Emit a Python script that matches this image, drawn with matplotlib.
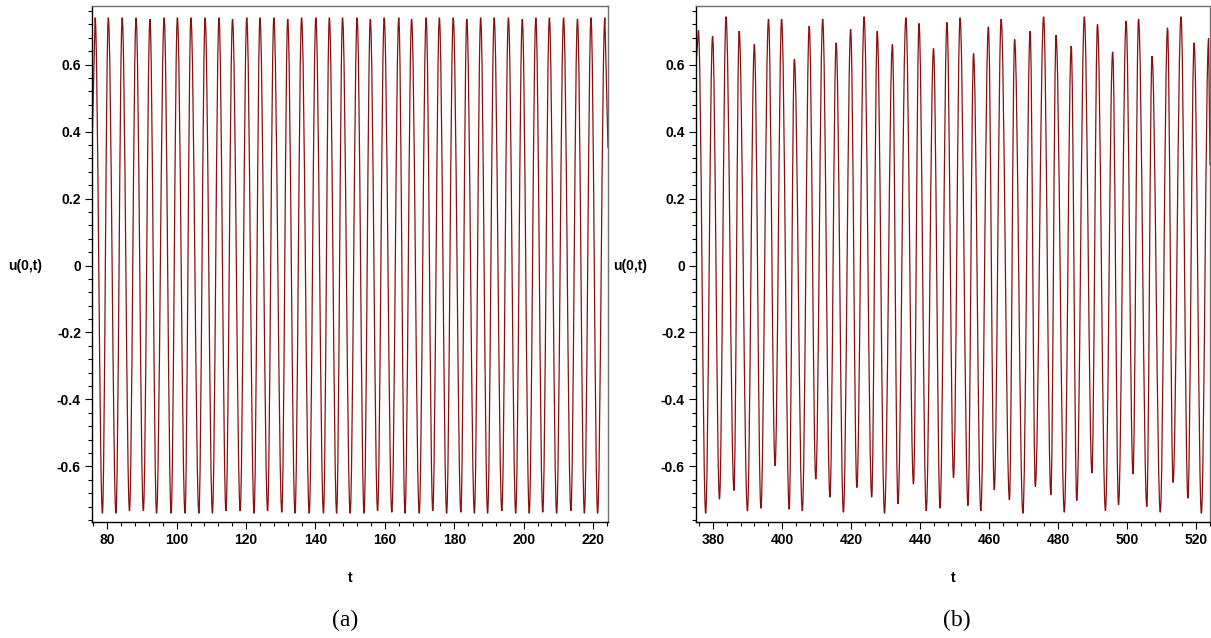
import matplotlib
matplotlib.use("Agg")
import matplotlib.pyplot as plt
from matplotlib.path import Path
from matplotlib.patches import PathPatch
from matplotlib.ticker import MultipleLocator, FuncFormatter

plt.rcParams['font.family'] = ['Liberation Sans', 'DejaVu Sans']
plt.rcParams['axes.unicode_minus'] = False

# ---- panel (a): t in [76, 224], regular oscillation ----
ta_lim = (75.6, 224.3)
ta_start, ua_start = 75.6, 0.35
ta_end, ua_end = 224.3, 0.35
ta_max = [76.5, 80.3, 84.3, 88.3, 92.3, 96.4, 100.2, 104.1, 108.2, 112.2, 116.1, 120.2,
          124.0, 128.0, 132.0, 136.0, 140.1, 144.0, 147.8, 152.0, 155.8, 159.8, 164.0,
          167.7, 171.9, 175.7, 179.7, 183.6, 187.6, 191.5, 195.6, 199.6, 203.5, 207.4,
          211.5, 215.5, 219.4, 223.4]
ua_max = [0.740, 0.740, 0.740, 0.740, 0.736, 0.740, 0.740, 0.740, 0.740, 0.740, 0.736, 0.740,
          0.740, 0.740, 0.736, 0.740, 0.740, 0.740, 0.740, 0.740, 0.736, 0.740, 0.740,
          0.736, 0.740, 0.740, 0.740, 0.736, 0.740, 0.740, 0.740, 0.736, 0.740, 0.740,
          0.740, 0.736, 0.740, 0.740]
ta_min = [78.6, 82.5, 86.4, 90.4, 94.2, 98.4, 102.4, 106.4, 110.3, 114.2, 118.3, 122.3,
          126.2, 130.3, 134.1, 138.2, 142.3, 146.1, 150.0, 154.0, 157.9, 162.0, 165.8,
          169.9, 173.8, 177.8, 181.9, 185.8, 189.6, 193.7, 197.7, 201.6, 205.5, 209.5,
          213.6, 217.5, 221.3]
ua_min = [-0.740, -0.740, -0.733, -0.733, -0.740, -0.740, -0.740, -0.740, -0.740, -0.733,
          -0.733, -0.740, -0.733, -0.737, -0.740, -0.740, -0.740, -0.740, -0.740, -0.740,
          -0.733, -0.737, -0.740, -0.740, -0.733, -0.740, -0.737, -0.740, -0.740, -0.733,
          -0.740, -0.740, -0.737, -0.740, -0.733, -0.740, -0.740]

# ---- panel (b): t in [375, 524], irregular peaks ----
tb_lim = (375.1, 524.0)
tb_start, ub_start = 375.1, 0.60
tb_end, ub_end = 524.0, 0.30
tb_max = [375.8, 379.9, 383.8, 387.6, 392.0, 396.1, 399.9, 403.6, 407.9, 411.8, 415.7,
          419.9, 423.8, 427.6, 432.0, 435.9, 439.7, 443.9, 447.8, 451.6, 455.5, 459.8,
          463.5, 467.4, 471.9, 475.8, 479.4, 483.8, 487.6, 491.4, 495.8, 499.7, 503.3,
          507.2, 511.7, 515.6, 519.4, 523.6]
ub_max = [0.703, 0.685, 0.743, 0.700, 0.660, 0.736, 0.736, 0.617, 0.715, 0.736, 0.665,
          0.705, 0.743, 0.700, 0.660, 0.740, 0.723, 0.648, 0.726, 0.740, 0.633, 0.713,
          0.736, 0.675, 0.700, 0.743, 0.688, 0.655, 0.743, 0.720, 0.638, 0.730, 0.736,
          0.625, 0.710, 0.743, 0.665, 0.678]
tb_min = [377.9, 381.9, 386.1, 390.0, 393.9, 398.0, 402.1, 405.9, 409.8, 413.9, 417.8,
          421.7, 426.0, 429.7, 433.6, 438.1, 441.8, 445.8, 449.7, 453.9, 457.6, 461.5,
          465.9, 469.8, 473.4, 477.9, 481.8, 485.4, 489.8, 493.7, 497.5, 501.7, 505.7,
          509.6, 513.3, 517.6, 521.5]
ub_min = [-0.740, -0.698, -0.672, -0.733, -0.725, -0.598, -0.728, -0.733, -0.638, -0.692,
          -0.737, -0.663, -0.692, -0.740, -0.712, -0.653, -0.733, -0.725, -0.633, -0.717,
          -0.733, -0.670, -0.700, -0.740, -0.660, -0.685, -0.737, -0.702, -0.620, -0.732,
          -0.715, -0.623, -0.720, -0.737, -0.648, -0.695, -0.740]

u_lim = (-0.766, 0.775)
line_col = '#8a0f0f'


def dibujar_onda(ax, t0, u0, tmax, umax, tmin, umin, t1, u1):
    # une los extremos leidos con tramos suaves (tangente horizontal en cada pico)
    pts = sorted(list(zip(tmax, umax)) + list(zip(tmin, umin)))
    verts = [(t0, u0), pts[0]]
    codes = [Path.MOVETO, Path.LINETO]
    for (ta, ua), (tb, ub) in zip(pts[:-1], pts[1:]):
        d = 0.36 * (tb - ta)
        verts += [(ta + d, ua), (tb - d, ub), (tb, ub)]
        codes += [Path.CURVE4] * 3
    verts.append((t1, u1))
    codes.append(Path.LINETO)
    ax.add_patch(PathPatch(Path(verts, codes), fill=False, ec=line_col, lw=0.9))


def estilo(ax, xlim):
    ax.set_xlim(*xlim)
    ax.set_ylim(*u_lim)
    ax.xaxis.set_major_locator(MultipleLocator(20))
    ax.xaxis.set_minor_locator(MultipleLocator(4))
    ax.yaxis.set_major_locator(MultipleLocator(0.2))
    ax.yaxis.set_minor_locator(MultipleLocator(0.04))
    ax.yaxis.set_major_formatter(FuncFormatter(lambda v, p: '0' if abs(v) < 1e-9 else '%.1f' % v))
    ax.tick_params(which='major', direction='out', length=5, width=0.8, pad=3,
                   labelsize=10)
    ax.tick_params(which='minor', direction='out', length=3, width=0.8)
    for lab in ax.get_xticklabels() + ax.get_yticklabels():
        lab.set_fontweight('bold')
    for s in ('top', 'right'):
        ax.spines[s].set_color('#6e6e6e')
        ax.spines[s].set_linewidth(1.0)
    for s in ('left', 'bottom'):
        ax.spines[s].set_color('black')
        ax.spines[s].set_linewidth(1.0)


W, H = 1211, 638
fig = plt.figure(figsize=(W / 100, H / 100), dpi=100)
ax1 = fig.add_axes([92 / W, 1 - 522 / H, (608 - 92) / W, (522 - 6) / H])
ax2 = fig.add_axes([696 / W, 1 - 522 / H, (1210 - 696) / W, (522 - 6) / H])

dibujar_onda(ax1, ta_start, ua_start, ta_max, ua_max, ta_min, ua_min, ta_end, ua_end)
dibujar_onda(ax2, tb_start, ub_start, tb_max, ub_max, tb_min, ub_min, tb_end, ub_end)
estilo(ax1, ta_lim)
estilo(ax2, tb_lim)

# etiquetas de ejes y subtitulos
for xc in (25, 630):
    fig.text(xc / W, 1 - 266 / H, 'u(0,t)', ha='center', va='center',
             fontsize=10, fontweight='bold')
for xc in (350, 953):
    fig.text(xc / W, 1 - 578 / H, 't', ha='center', va='center',
             fontsize=10, fontweight='bold')
fig.text(345 / W, 1 - 620 / H, '(a)', ha='center', va='center',
         fontsize=17, family='Liberation Serif')
fig.text(957 / W, 1 - 620 / H, '(b)', ha='center', va='center',
         fontsize=17, family='Liberation Serif')

fig.savefig('out.png', dpi=100)
